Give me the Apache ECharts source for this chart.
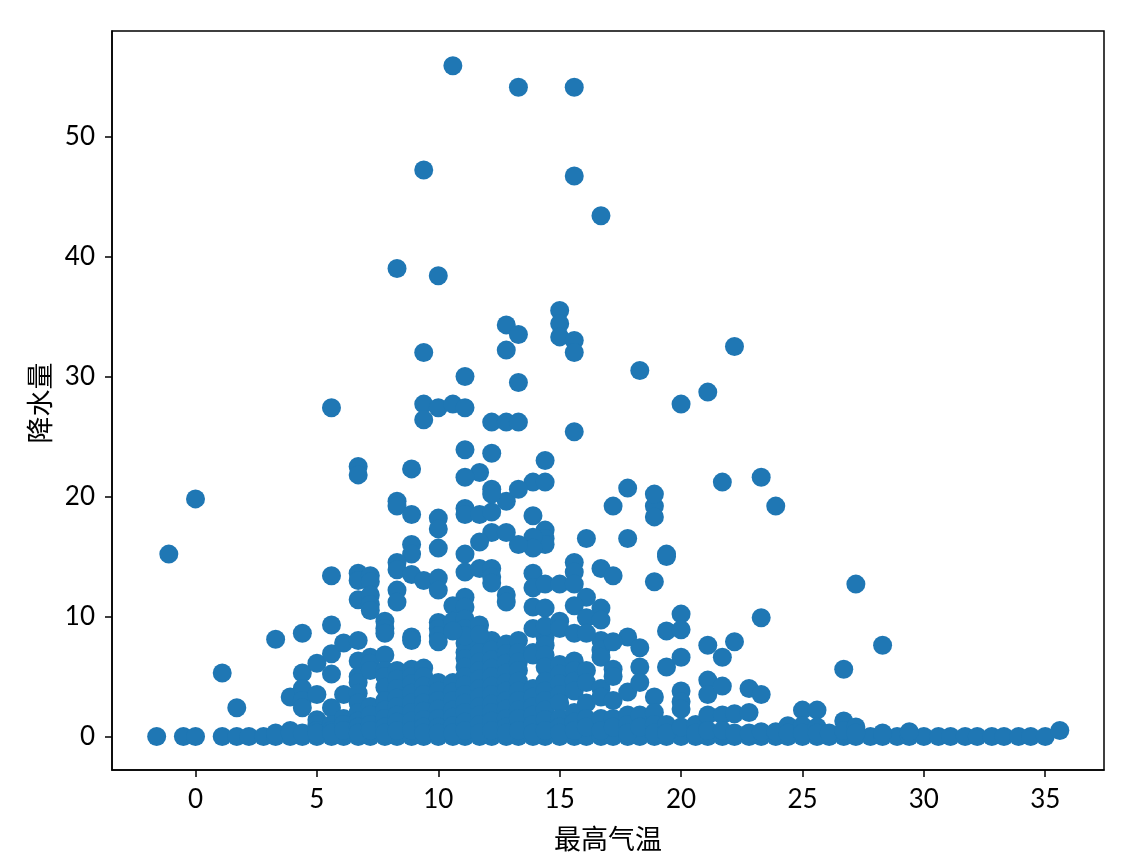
<!DOCTYPE html>
<html><head><meta charset="utf-8">
<style>html,body{margin:0;padding:0;background:#fff}#c{width:1146px;height:864px}</style>
<script src="https://cdn.jsdelivr.net/npm/echarts@6/dist/echarts.min.js"></script>
</head><body><div id="c"></div>
<script>
const xTicks = [0,5,10,15,20,25,30,35];
const yTicks = [0,10,20,30,40,50];
const xName = '最高气温';
const yName = '降水量';
const pointColor = '#1f77b4';

const dryDayTemps = [-1.6,-0.5,0,1.1,1.7,2.2,2.8,3.3,3.9,4.4,5,5.6,6.1,6.7,7.2,7.8,8.3,8.9,9.4,10,10.6,11.1,11.7,12.2,12.8,13.3,13.9,14.4,15,15.6,16.1,16.7,17.2,17.8,18.3,18.9,19.4,20,20.6,21.1,21.7,22.2,22.8,23.3,23.9,24.4,25,25.6,26.1,26.7,27.2,27.8,28.3,28.9,29.4,30,30.6,31.1,31.7,32.2,32.8,33.3,33.9,34.4,35];

const heavyRain = [[10.6,55.9],[13.3,54.1],[15.6,54.1],[9.4,47.2],[15.6,46.7],[16.7,43.4],[8.3,39],[10,38.4],[15,35.5],[15,34.4],[15,33.3],[12.8,34.3],[13.3,33.5],[15.6,33],[15.6,32],[12.8,32.2],[9.4,32],[22.2,32.5],[18.3,30.5],[11.1,30],[13.3,29.5],[21.1,28.7],[20,27.7],[5.6,27.4],[9.4,27.7],[10,27.4],[10.6,27.7],[11.1,27.4],[9.4,26.4],[12.2,26.2],[12.8,26.2],[13.3,26.2],[15.6,25.4],[11.1,23.9],[12.2,23.6],[14.4,23],[6.7,22.5],[6.7,21.8],[8.9,22.3],[11.7,22],[11.1,21.6],[13.9,21.2],[14.4,21.2],[21.7,21.2],[23.3,21.6],[17.8,20.7],[18.9,20.2],[13.3,20.6],[12.2,20.6],[12.2,20.2]];

const moderateRain = [[23.9,19.2],[18.9,19.2],[18.9,18.3],[17.2,19.2],[12.8,19.6],[0,19.8],[-1.1,15.2],[8.3,19.6],[8.3,19.2],[8.9,18.5],[11.1,19],[11.1,18.5],[11.7,18.5],[12.2,18.7],[10,18.2],[10,17.3],[13.9,18.4],[14.4,17.2],[14.4,16.5],[14.4,16],[13.9,16.6],[13.9,15.7],[13.3,16],[12.2,17],[12.8,17],[11.7,16.2],[16.1,16.5],[17.8,16.5],[8.9,16],[8.9,15.2],[10,15.7],[11.1,15.2],[19.4,15.2],[19.4,15],[8.3,14.5],[8.3,13.9],[15.6,14.5],[15.6,13.7],[16.7,14],[17.2,13.4],[5.6,13.4],[6.7,13.6],[6.7,13],[7.2,13.4],[7.2,12.9],[8.9,13.5],[9.4,13],[10,13.2],[10,12.2],[11.1,13.7],[11.7,14],[12.2,14],[12.2,13.3],[12.2,12.8],[13.9,13.6],[13.9,12.4],[14.4,12.7],[15,12.7],[15.6,12.7],[18.9,12.9],[27.2,12.7],[8.3,12.2],[8.3,11.2],[6.7,11.4],[7.2,11.8],[7.2,11],[7.2,10.5],[11.1,11.6],[10.6,10.9],[11.1,10.8],[12.8,11.8],[12.8,11.2],[13.9,10.8],[14.4,10.7],[16.1,11.6],[15.6,10.9],[16.7,10.7],[16.1,9.9],[16.7,9.7],[20,10.2],[23.3,9.9],[5.6,9.3],[7.8,9.6],[7.8,9],[7.8,8.6],[8.9,8.3],[8.9,8],[4.4,8.6],[3.3,8.1],[10,9.5],[10,9],[10,8.4],[10,7.9],[10.6,9.6],[11.1,9.8],[11.1,9],[11.1,8.4],[10.6,8.8],[11.7,9.3],[11.7,8.5],[13.9,9],[14.4,9.2],[15,9.6],[15,9],[15.6,8.6],[16.1,8.6],[17.8,8.3],[19.4,8.8],[20,8.9],[28.3,7.6],[22.2,7.9],[21.1,7.6],[18.3,7.4],[17.2,7.9],[26.7,5.6],[21.7,6.6],[1.1,5.3],[1.7,2.4]];

const lightRainByTemp = [
  [3.3,0.3],
  [3.9,3.3,0.5,0.3],
  [4.4,5.3,4,3,2.4,0.3],
  [5,6.1,3.5,1.4,1,0.5,0.3],
  [5.6,6.9,5.2,2.4,1,0.5,0.3],
  [6.1,7.8,3.5,1.5,1,0.5],
  [6.7,8,6.3,5,4.5,3.6,2.8,2,1.3,0.8,0.3],
  [7.2,6.6,6.1,5.5,2.5,1.8,1,0.5],
  [7.8,6.8,5.5,5,4.1,3,2.2,1.5,0.8,0.3],
  [8.3,5.5,4.8,4,3.2,2.5,1.8,1.2,0.5],
  [8.9,5.6,5,4.4,3.6,2.8,2,1.3,0.5],
  [9.4,5.7,5,4.2,3.5,2.8,2.1,1.4,0.8,0.3],
  [10,4.5,3.8,3,2.3,1.5,0.8,0.3],
  [10.6,4.5,3.7,3,2.2,1.6,0.9,0.3],
  [11.1,7.8,7,6.5,5.8,5,4.3,3.5,2.8,2,1.2,0.5],
  [11.7,7.6,7,6.2,5.5,4.8,4,3.3,2.5,1.8,1,0.3],
  [12.2,8,7.2,6.4,5.7,5,4.2,3.5,2.7,2,1.3,0.5],
  [12.8,7.7,6.9,6.1,5.3,4.5,3.8,3,2.3,1.5,0.8,0.3],
  [13.3,8,7,6.2,5.5,4.6,3.8,3,2.2,1.5,0.5],
  [13.9,7,6.8,4,3.3,2.5,1.8,1,0.3],
  [14.4,8.3,7.6,6.8,5.8,4.6,3.8,3,2.2,1.4,0.5],
  [15,6,5.2,4.4,3.5,2.8,1.5,0.8,0.3],
  [15.6,6.3,5.5,4.6,3.8,2,1.2,0.5],
  [16.1,5.5,4.5,2.8,1.5,0.8],
  [16.7,8,7.2,6.6,4,3.3,1.5,0.5],
  [17.2,5.6,5,3,1.5,0.8],
  [17.8,3.7,1.8,1,0.3],
  [18.3,5.8,4.5,1.8,0.8],
  [18.9,3.3,2,1,0.3],
  [19.4,5.8,1,0.3],
  [20,6.6,3.8,2.9,2.3,0.8],
  [20.6,1,0.3],
  [21.1,4.7,3.5,1.8,0.5],
  [21.7,4.2,1.8,0.5],
  [22.2,1.9,0.3],
  [22.8,4,2,0.3],
  [23.3,3.5,0.4],
  [23.9,0.4],
  [24.4,0.9,0.3],
  [25,2.2,0.9,0.3],
  [25.6,2.2,0.8,0.3],
  [26.1,0.3],
  [26.7,1.3,0.5],
  [27.2,0.8,0.3],
  [28.3,0.3],
  [29.4,0.4],
  [35.6,0.5]
];

const lightRain = lightRainByTemp.flatMap(([t, ...rs]) => rs.map(r => [t, r]));
const dryDays = dryDayTemps.map(t => [t, 0]);
const points = [...dryDays, ...lightRain, ...moderateRain, ...heavyRain];

const latin = 'Lato, "Noto Sans CJK SC", sans-serif';
const axisCommon = {
  splitLine: {show: false},
  axisLine: {show: true, onZero: false, lineStyle: {color: '#000', width: 1.5}},
  nameLocation: 'middle'
};
const nameFont = {color: '#000', fontSize: 27, fontFamily: '"Noto Sans CJK SC", sans-serif'};
const chart = echarts.init(document.getElementById('c'), null, {renderer: 'canvas'});
chart.setOption({
  animation: false,
  backgroundColor: '#fff',
  grid: {left: 112, top: 31, width: 992, height: 739, show: true, borderColor: '#000', borderWidth: 1.5, backgroundColor: '#fff'},
  xAxis: Object.assign({}, axisCommon, {
    type: 'value', min: -3.44, max: 37.42, name: xName, nameGap: 55,
    nameTextStyle: nameFont,
    axisTick: {show: true, length: 7, lineStyle: {color: '#000', width: 1.5}, customValues: xTicks},
    axisLabel: {color: '#000', fontSize: 26, fontFamily: latin, margin: 17, customValues: xTicks}
  }),
  yAxis: Object.assign({}, axisCommon, {
    type: 'value', min: -2.79, max: 58.79, name: yName, nameGap: 59,
    nameTextStyle: Object.assign({}, nameFont, {padding: [0, 5, 0, 0]}),
    axisTick: {show: true, length: 7, lineStyle: {color: '#000', width: 1.5}, customValues: yTicks},
    axisLabel: {color: '#000', fontSize: 26, fontFamily: latin, margin: 17, customValues: yTicks}
  }),
  series: [{type: 'scatter', data: points, symbol: 'circle', symbolSize: 19, itemStyle: {color: pointColor, opacity: 1}, silent: true, clip: true}]
});
</script></body></html>
